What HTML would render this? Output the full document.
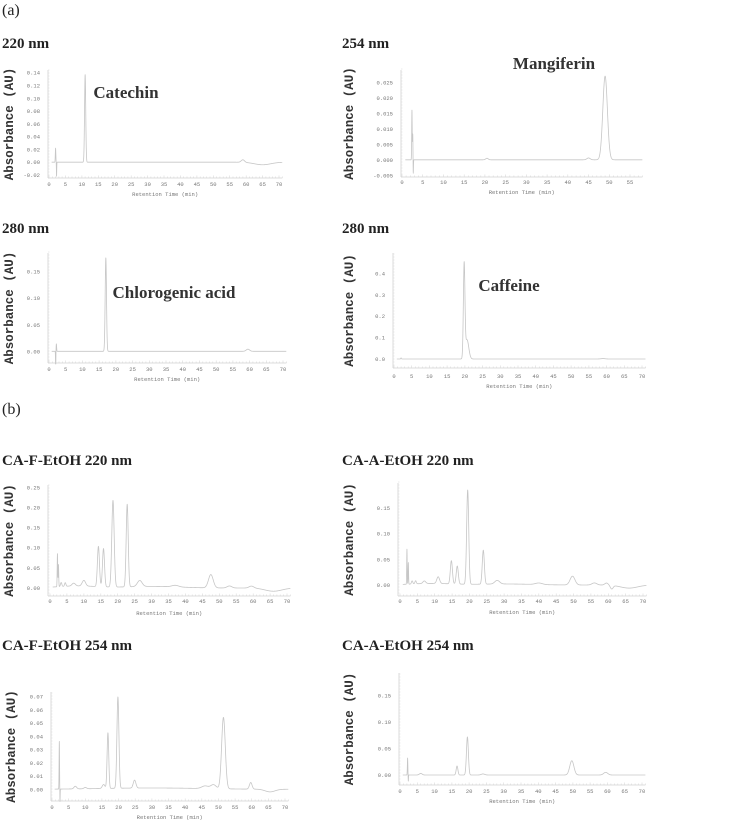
<!DOCTYPE html>
<html><head><meta charset="utf-8">
<style>
html,body{margin:0;padding:0;background:#fff;}
svg{display:block;}
.hd{font-family:"Liberation Serif",serif;font-weight:bold;font-size:15px;fill:#222;}
.pl{font-family:"Liberation Serif",serif;font-size:16px;fill:#222;}
.cp{font-family:"Liberation Serif",serif;font-weight:bold;font-size:17px;fill:#333;}
.yl{font-family:"Liberation Mono",monospace;font-weight:bold;font-size:12.5px;fill:#333;}
.tk{font-family:"Liberation Mono",monospace;font-size:5.5px;fill:#777;}
</style></head>
<body>
<svg id="fig" width="734" height="821" viewBox="0 0 734 821" xmlns="http://www.w3.org/2000/svg">
<text class="pl" x="2" y="15">(a)</text>
<text class="pl" x="2" y="414">(b)</text>
<text class="hd" x="2" y="48">220 nm</text>
<text class="hd" x="342" y="48">254 nm</text>
<text class="hd" x="2" y="233">280 nm</text>
<text class="hd" x="342" y="233">280 nm</text>
<text class="hd" x="2" y="465">CA-F-EtOH 220 nm</text>
<text class="hd" x="342" y="465">CA-A-EtOH 220 nm</text>
<text class="hd" x="2" y="650">CA-F-EtOH 254 nm</text>
<text class="hd" x="342" y="650">CA-A-EtOH 254 nm</text>
<text class="cp" x="126" y="98" text-anchor="middle">Catechin</text>
<text class="cp" x="554" y="69" text-anchor="middle">Mangiferin</text>
<text class="cp" x="174" y="298" text-anchor="middle">Chlorogenic acid</text>
<text class="cp" x="509" y="291" text-anchor="middle">Caffeine</text>
</svg>
<script>
// Peak data (retention time min, absorbance AU, peak width sigma min) per chromatogram
const catechinTimes=[2.0,2.3,11.0,59.0,65];
const catechinHeights=[0.022,-0.022,0.137,0.004,-0.004];
const catechinWidths=[0.08,0.05,0.18,0.5,2.5];

const mangiferinTimes=[2.4,2.6,2.7,20.5,45,49.0];
const mangiferinHeights=[0.016,0.009,-0.006,0.0005,0.0006,0.027];
const mangiferinWidths=[0.06,0.06,0.05,0.3,0.4,0.55];

const chlorogenicTimes=[2.2,2.0,17.0,59.5];
const chlorogenicHeights=[0.014,-0.04,0.176,0.004];
const chlorogenicWidths=[0.08,0.05,0.2,0.5];

const caffeineTimes=[2.0,19.8,20.6,59.0];
const caffeineHeights=[0.005,0.43,0.09,0.002];
const caffeineWidths=[0.1,0.22,0.5,0.6];

const caF220Times=[2.2,2.5,3.3,4.5,7.0,10.0,14.3,15.8,18.6,22.8,26.5,37.0,47.5,53.0,59.5,66,8,30];
const caF220Heights=[0.082,0.055,0.01,0.009,0.007,0.014,0.1,0.095,0.215,0.205,0.015,0.004,0.033,0.005,0.005,-0.008,0.005,0.004];
const caF220Widths=[0.08,0.08,0.2,0.2,0.5,0.5,0.3,0.3,0.35,0.3,0.7,1.0,0.7,0.7,0.7,2.5,6,8];

const caA220Times=[2.0,2.4,3.5,4.5,7.0,11.0,14.8,16.5,19.5,24.0,28.0,40.0,49.7,56.0,59.5,61.0,66,9,30];
const caA220Heights=[0.068,0.042,0.006,0.006,0.005,0.013,0.045,0.035,0.183,0.066,0.007,0.003,0.017,0.004,0.004,-0.007,-0.006,0.003,0.002];
const caA220Widths=[0.07,0.07,0.2,0.2,0.4,0.4,0.3,0.3,0.3,0.3,0.7,1.0,0.7,0.7,0.5,0.4,2.5,6,8];

const caF254Times=[2.2,2.4,7.0,10.0,15.5,16.8,19.8,24.8,46.0,48.5,51.5,59.7,65.5,30];
const caF254Heights=[0.036,-0.01,0.002,0.001,0.003,0.042,0.069,0.006,0.002,0.003,0.054,0.005,-0.002,0.001];
const caF254Widths=[0.07,0.05,0.4,0.4,0.4,0.25,0.3,0.4,1.0,0.8,0.55,0.4,1.5,15];

const caA254Times=[2.2,2.4,6.0,16.5,19.5,24.0,49.7,59.5];
const caA254Heights=[0.032,-0.012,0.003,0.017,0.072,0.002,0.027,0.005];
const caA254Widths=[0.07,0.05,0.4,0.25,0.28,0.5,0.6,0.6];

// Tick label arrays
const xTicks70=[0,5,10,15,20,25,30,35,40,45,50,55,60,65,70];
const xTicks55=[0,5,10,15,20,25,30,35,40,45,50,55];
const catechinYTicks=[-0.02,0,0.02,0.04,0.06,0.08,0.10,0.12,0.14];
const mangiferinYTicks=[-0.005,0,0.005,0.010,0.015,0.020,0.025];
const chlorogenicYTicks=[0,0.05,0.10,0.15];
const caffeineYTicks=[0,0.1,0.2,0.3,0.4];
const caF220YTicks=[0,0.05,0.10,0.15,0.20,0.25];
const caA220YTicks=[0,0.05,0.10,0.15];
const caF254YTicks=[0,0.01,0.02,0.03,0.04,0.05,0.06,0.07];
const caA254YTicks=[0,0.05,0.10,0.15];

const NS="http://www.w3.org/2000/svg";
const svg=document.getElementById('fig');
function mk(tag,attrs){const e=document.createElementNS(NS,tag);for(const k in attrs)e.setAttribute(k,attrs[k]);svg.appendChild(e);return e;}

function panel(name,g,times,heights,widths,xt,yt,dec){
  const X=t=>g.x0+t*g.xs, Y=v=>g.y0-v*g.ys;
  const ya=mk('line',{x1:g.ax,y1:g.top,x2:g.ax,y2:g.bottom,stroke:'#d2d2d2','stroke-width':0.8});
  
  
  const xa=mk('line',{x1:g.ax,y1:g.bottom,x2:X(g.xmax),y2:g.bottom,stroke:'#d2d2d2','stroke-width':0.8});
  
  
  let d='';
  for(let t=0;t<=g.xmax;t+=1){const x=X(t);d+=`M${x.toFixed(1)} ${g.bottom}V${g.bottom-(t%5?1.5:2.5)}`;}
  const nm=Math.round((g.bottom-g.top)/3);
  for(let i=0;i<=nm;i++){const y=g.bottom-i*3;d+=`M${g.ax} ${y}h1.5`;}
  const mt=mk('path',{d:d,stroke:'#d8d8d8','stroke-width':0.6,fill:'none'});
  
  
  xt.forEach(t=>{
    const e=mk('text',{x:X(t),y:g.tickY,class:'tk','text-anchor':'middle'});
    e.textContent=String(t);
    
    
  });
  yt.forEach(v=>{
    const e=mk('text',{x:g.ax-8,y:Y(v)+2,class:'tk','text-anchor':'end'});
    e.textContent=v.toFixed(dec);
    
    
  });
  const xt2=mk('text',{x:(g.ax+X(g.xmax))/2,y:g.titleY,class:'tk','text-anchor':'middle'});
  xt2.textContent='Retention Time (min)';
  
  
  const cy=(g.top+g.bottom)/2;
  const yl=mk('text',{x:g.ylabX,y:cy,class:'yl','text-anchor':'middle',transform:`rotate(-90 ${g.ylabX} ${cy})`,dy:'4'});
  yl.textContent='Absorbance (AU)';
  
  
  let p='';
  for(let t=0.8;t<=g.xmax;t+=0.02){
    let v=0;
    for(let i=0;i<times.length;i++){const z=(t-times[i])/widths[i];v+=heights[i]*Math.exp(-0.5*z*z);}
    let y=Y(v); if(y>g.bottom+1)y=g.bottom+1;
    p+=(p?'L':'M')+X(t).toFixed(2)+' '+y.toFixed(2);
  }
  const tr=mk('path',{d:p,stroke:'#c6c6c6','stroke-width':0.8,fill:'none','stroke-linejoin':'round'});
  
  
}

panel('catechin',{ax:48,x0:49,xs:3.286,y0:162.2,ys:639.4,top:70,bottom:178,xmax:71,tickY:186,titleY:196,ylabX:9},catechinTimes,catechinHeights,catechinWidths,xTicks70,catechinYTicks,2);
panel('mangiferin',{ax:401,x0:402,xs:4.145,y0:159.8,ys:3100,top:70,bottom:177,xmax:58,tickY:184,titleY:194,ylabX:349},mangiferinTimes,mangiferinHeights,mangiferinWidths,xTicks55,mangiferinYTicks,3);
panel('chlorogenic',{ax:48,x0:49,xs:3.343,y0:351.3,ys:530.7,top:253,bottom:363,xmax:71,tickY:371,titleY:381,ylabX:9},chlorogenicTimes,chlorogenicHeights,chlorogenicWidths,xTicks70,chlorogenicYTicks,2);
panel('caffeine',{ax:393,x0:394,xs:3.543,y0:359,ys:214,top:253,bottom:368,xmax:71,tickY:378,titleY:388,ylabX:349},caffeineTimes,caffeineHeights,caffeineWidths,xTicks70,caffeineYTicks,1);
panel('ca-f-220',{ax:48,x0:50,xs:3.386,y0:588,ys:402.7,top:485,bottom:596,xmax:71,tickY:603,titleY:615,ylabX:9},caF220Times,caF220Heights,caF220Widths,xTicks70,caF220YTicks,2);
panel('ca-a-220',{ax:398,x0:400,xs:3.471,y0:585,ys:515,top:483,bottom:596,xmax:71,tickY:603,titleY:614,ylabX:349},caA220Times,caA220Heights,caA220Widths,xTicks70,caA220YTicks,2);
panel('ca-f-254',{ax:51,x0:52,xs:3.329,y0:789.3,ys:1323,top:692,bottom:801,xmax:71,tickY:809,titleY:819,ylabX:11},caF254Times,caF254Heights,caF254Widths,xTicks70,caF254YTicks,2);
panel('ca-a-254',{ax:399,x0:400,xs:3.457,y0:775,ys:528.7,top:673,bottom:785,xmax:71,tickY:793,titleY:803,ylabX:349},caA254Times,caA254Heights,caA254Widths,xTicks70,caA254YTicks,2);
</script>
</body></html>
